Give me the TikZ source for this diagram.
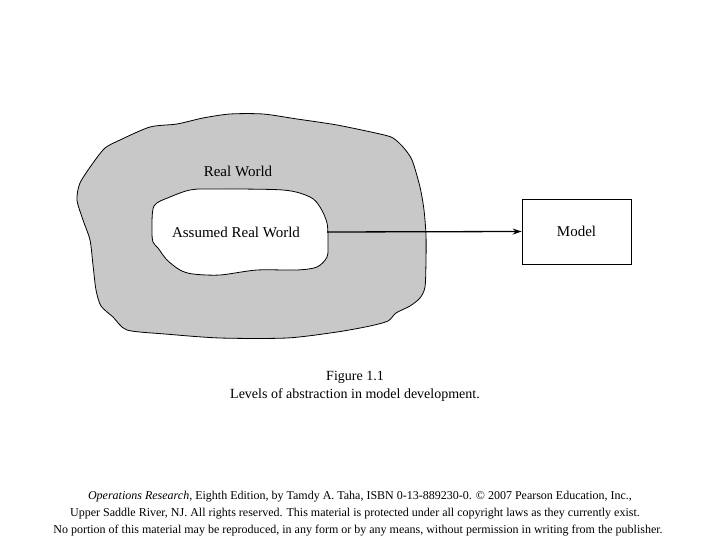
\documentclass[tikz,border=0pt]{standalone}
\usepackage{fontspec}
\setmainfont{Liberation Serif}
\usetikzlibrary{arrows.meta}
\definecolor{blobgray}{RGB}{200,200,200}
\begin{document}
\begin{tikzpicture}[x=1pt,y=-1pt,
  lbl/.style={inner sep=0pt,font=\fontsize{15}{18}\selectfont},
  captext/.style={inner sep=0pt,font=\fontsize{14}{17}\selectfont},
  foot/.style={inner sep=0pt,font=\fontsize{12}{14}\selectfont},
  blob/.style={draw=black,line width=0.8pt},
  conn/.style={line width=1.3pt,-{Stealth[length=9pt,width=6pt]}},
  modelbox/.style={draw=black,line width=0.6pt,minimum width=109pt,minimum height=65pt,inner sep=0pt,font=\fontsize{15}{18}\selectfont}]
\useasboundingbox (0,0) rectangle (720,540);
\fill[white] (0,0) rectangle (720,540);
% outer blob
\draw[blob,fill=blobgray] plot[smooth cycle,tension=0.45] coordinates {
(150,127)(177,124)(203,118)(230,114)(263,114)(297,119)(337,125)(380,134)(393,138)(403,147)(412,160)(420,187)(424,210)(426,235)(426,260)(425,287)(420,298)(410,306)(396,313)(388,321)(370,326)(337,332)(287,338)(220,338)(165,334)(127,330)(113,317)(101,306)(96,290)(93,265)(90,240)(83,220)(77,200)(80,183)(93,163)(105,148)(120,140)};
% inner blob
\draw[blob,fill=white] plot[smooth cycle,tension=0.5] coordinates {
(154,206)(170,197)(190,190)(210,189)(283,190)(310,197)(320,207)(327,223)(328,243)(327,257)(317,267)(297,270)(257,270)(220,275)(193,274)(180,270)(167,260)(158,248)(153,242)(152,230)};
\node[lbl] (rw) at (238,171) {Real World};
\node[lbl] (arw) at (236,232) {Assumed Real World};
\coordinate (arwedge) at (327,232);
\node[modelbox] (model) at (576.5,231.5) {Model};
\draw[conn] (arwedge) -- (model.west);
\node[captext] (fig) at (355,377) {Figure 1.1};
\node[captext] (capt) at (355,395) {Levels of abstraction in model development.};
\node[foot] (f1) at (360,497) {\textit{Operations Research}, Eighth Edition, by Tamdy A. Taha, ISBN 0-13-889230-0. © 2007 Pearson Education, Inc.,};
\node[foot] (f2) at (355,514) {Upper Saddle River, NJ. All rights reserved. This material is protected under all copyright laws as they currently exist.};
\node[foot] (f3) at (358,531) {No portion of this material may be reproduced, in any form or by any means, without permission in writing from the publisher.};
\end{tikzpicture}
\end{document}
